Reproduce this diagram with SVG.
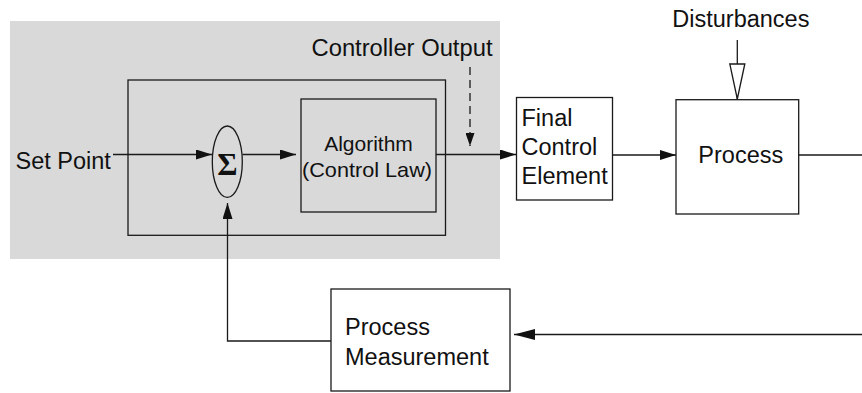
<svg xmlns="http://www.w3.org/2000/svg" width="862" height="393" viewBox="0 0 862 393">
  <style>
    .box { fill: #ffffff; stroke: #1a1a1a; stroke-width: 1.3; }
    .inbox { fill: none; stroke: #1a1a1a; stroke-width: 1.3; }
    .lbl { font-family: "Liberation Sans", Arial, sans-serif; font-size: 23.5px; fill: #111111; }
    .alg { font-family: "Liberation Sans", Arial, sans-serif; font-size: 21px; fill: #111111; }
    .wire { fill: none; stroke: #1a1a1a; stroke-width: 1.3; }
    .dash { stroke-dasharray: 8 5; }
  </style>
  <defs>
    <marker id="arrow" markerUnits="userSpaceOnUse" markerWidth="16" markerHeight="10" refX="16" refY="5" orient="auto">
      <path d="M0,0 L16,5 L0,10 z" fill="#111111"/>
    </marker>
    <marker id="arrowSmall" markerUnits="userSpaceOnUse" markerWidth="13" markerHeight="9" refX="13" refY="4.5" orient="auto">
      <path d="M0,0 L13,4.5 L0,9 z" fill="#111111"/>
    </marker>
    <marker id="arrowBig" markerUnits="userSpaceOnUse" markerWidth="21" markerHeight="11" refX="21" refY="5.5" orient="auto">
      <path d="M0,0 L21,5.5 L0,11 z" fill="#111111"/>
    </marker>
    <marker id="hollow" markerUnits="userSpaceOnUse" markerWidth="38" markerHeight="18" refX="36" refY="8.5" orient="auto">
      <path d="M1,1 L36,8.5 L1,16 z" fill="#ffffff" stroke="#1a1a1a" stroke-width="1.3"/>
    </marker>
  </defs>

  <!-- controller area background -->
  <rect x="10" y="21" width="490" height="238" fill="#d9d9d9"/>

  <g id="controller">
    <rect class="inbox" x="128" y="80" width="317.5" height="155.3"/>
  </g>

  <g id="summing-junction">
    <ellipse cx="227.3" cy="161.7" rx="15" ry="35.7" fill="none" stroke="#1a1a1a" stroke-width="1.3"/>
    <text x="227.3" y="175" text-anchor="middle" font-family="'Liberation Serif', 'Times New Roman', serif" font-weight="bold" font-size="31px" fill="#111111">Σ</text>
  </g>

  <g id="algorithm">
    <rect class="inbox" x="301" y="99" width="135" height="113"/>
    <text class="alg" x="368.5" y="150.5" text-anchor="middle">Algorithm</text>
    <text class="alg" x="367" y="176.7" text-anchor="middle" textLength="130" lengthAdjust="spacingAndGlyphs">(Control Law)</text>
  </g>

  <g id="final-control-element">
    <rect class="box" x="516.5" y="97.5" width="96" height="102.5"/>
    <text class="lbl" x="521.5" y="125.5">Final</text>
    <text class="lbl" x="521.5" y="155">Control</text>
    <text class="lbl" x="521.5" y="184.3">Element</text>
  </g>

  <g id="process">
    <rect class="box" x="676" y="99.7" width="122.7" height="114.3"/>
    <text class="lbl" x="740.8" y="163.3" text-anchor="middle">Process</text>
  </g>

  <g id="process-measurement">
    <rect class="box" x="331" y="289" width="179" height="102"/>
    <text class="lbl" x="345" y="335">Process</text>
    <text class="lbl" x="345" y="365">Measurement</text>
  </g>

  <g id="labels">
    <text class="lbl" x="15.5" y="169">Set Point</text>
    <text class="lbl" x="311.5" y="56" textLength="181" lengthAdjust="spacingAndGlyphs">Controller Output</text>
    <text class="lbl" x="672.3" y="26.7">Disturbances</text>
  </g>

  <g id="connectors">
    <path class="wire" d="M113,154.5 H212" marker-end="url(#arrow)"/>
    <path class="wire" d="M242.5,154.5 H296" marker-end="url(#arrow)"/>
    <path class="wire" d="M436,154.5 H516" marker-end="url(#arrow)"/>
    <path class="wire dash" d="M470,67 V146" marker-end="url(#arrowSmall)"/>
    <path class="wire" d="M612.5,155 H676" marker-end="url(#arrow)"/>
    <path class="wire" d="M798.7,155 H862"/>
    <path class="wire" d="M737.3,40 V99" marker-end="url(#hollow)"/>
    <path class="wire" d="M862,334.5 H514" marker-end="url(#arrowBig)"/>
    <path class="wire" d="M331,341 H227.5 V203" marker-end="url(#arrow)"/>
  </g>
</svg>
